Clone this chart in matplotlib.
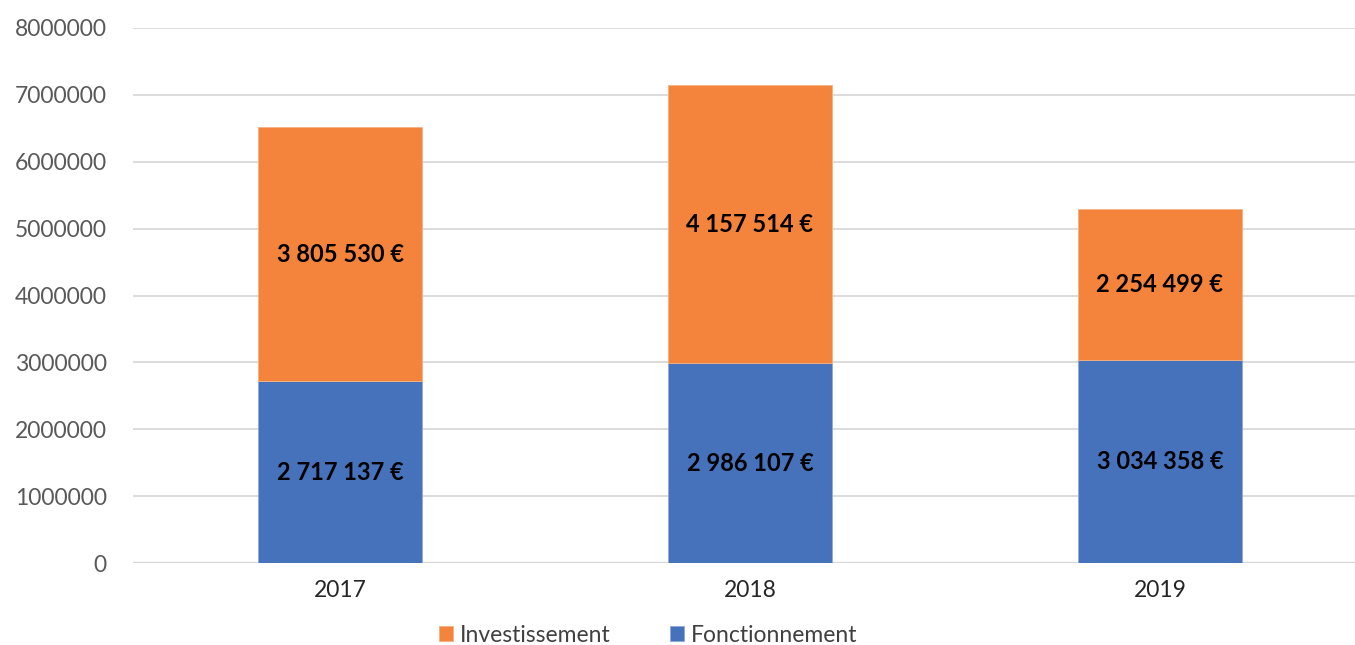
import matplotlib.pyplot as plt
import numpy as np

plt.rcParams['font.family'] = ['Lato', 'DejaVu Sans']

years = ["2017", "2018", "2019"]
fonctionnement = [2717137, 2986107, 3034358]
investissement = [3805530, 4157514, 2254499]

blue = '#4672BC'
orange = '#F4843B'

def fmt_euro(v):
    return f"{v:,}".replace(",", " ") + " €"

fig = plt.figure(figsize=(13.55, 6.45), dpi=100)
ax = fig.add_axes([133/1355, 1 - 563/645, 1 - 133/1355, (563 - 28)/645])

x = np.arange(len(years))
w = 0.40
b1 = ax.bar(x, fonctionnement, w, color=blue, label="Fonctionnement", zorder=3,
            edgecolor='#8fa9dc', linewidth=0.6)
b2 = ax.bar(x, investissement, w, bottom=fonctionnement, color=orange, label="Investissement",
            zorder=3, edgecolor='#f5b183', linewidth=0.6)

for i in range(len(years)):
    ax.text(x[i], fonctionnement[i] / 2, fmt_euro(fonctionnement[i]), ha='center', va='center',
            fontsize=17, fontweight='bold', color='black', zorder=4)
    ax.text(x[i], fonctionnement[i] + investissement[i] / 2, fmt_euro(investissement[i]),
            ha='center', va='center', fontsize=17, fontweight='bold', color='black', zorder=4)

ax.set_xlim(-0.505, 2.476)
ax.set_ylim(0, 8000000)
ax.set_yticks(np.arange(0, 8000001, 1000000))
ax.set_yticklabels([str(v) for v in range(0, 8000001, 1000000)])
ax.set_xticks(x)
ax.set_xticklabels(years)
ax.yaxis.grid(True, color='#d9d9d9', linewidth=1.3, zorder=0)
ax.axhline(0, color='#d0d0d0', linewidth=1.6, zorder=1)
for s in ax.spines.values():
    s.set_visible(False)
ax.tick_params(axis='both', length=0, labelsize=16.5, colors='#595959')
ax.tick_params(axis='y', pad=19)
ax.tick_params(axis='x', pad=12)
for lab in ax.get_xticklabels():
    lab.set_color('#262626')

handles = [b2, b1]
fig.legend(handles, ["Investissement", "Fonctionnement"], loc='center',
           bbox_to_anchor=(648/1355, 1 - 635/645), ncol=2, frameon=False,
           fontsize=16.5, handlelength=0.6, handleheight=0.6, columnspacing=2.6,
           handletextpad=0.3, labelcolor='#404040')

fig.savefig("out.png", dpi=100)
